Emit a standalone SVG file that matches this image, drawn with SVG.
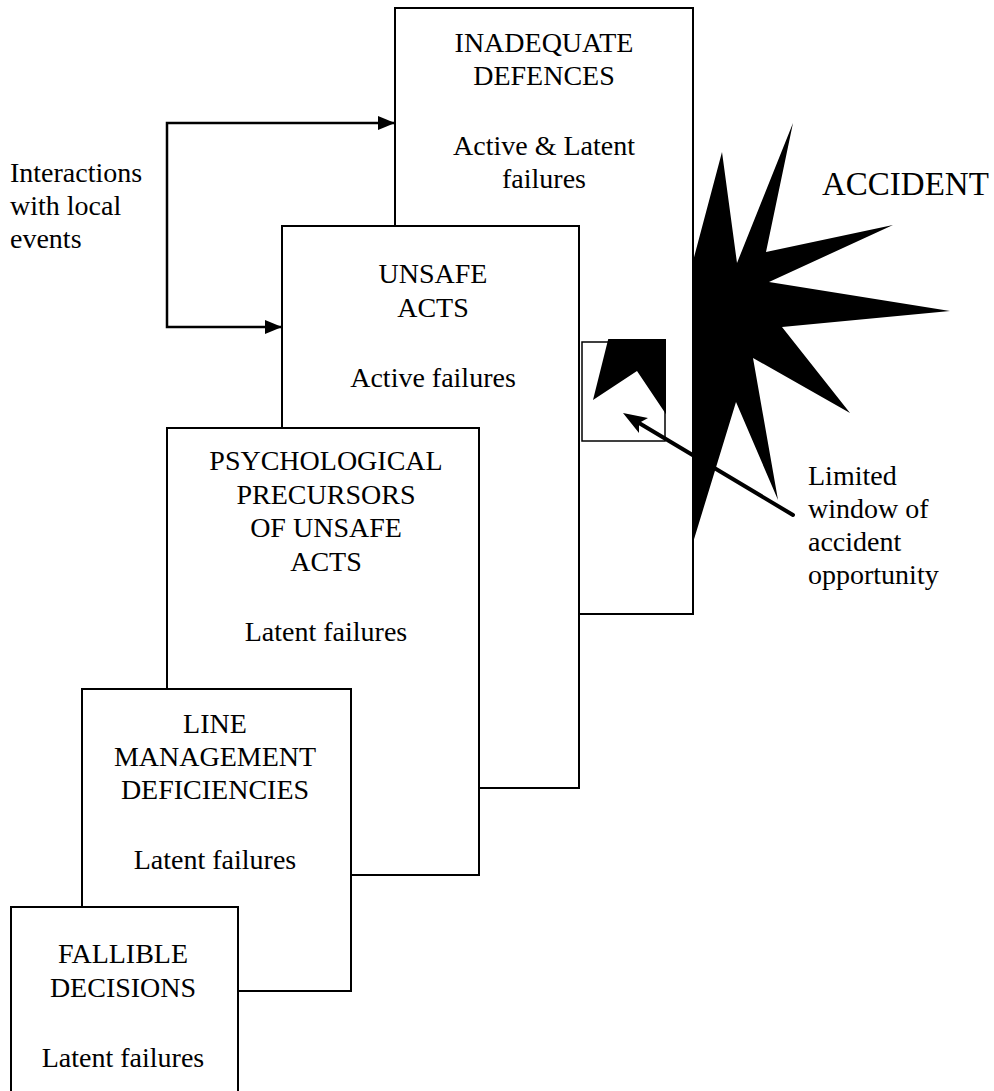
<svg xmlns="http://www.w3.org/2000/svg" xmlns:xlink="http://www.w3.org/1999/xlink" width="994" height="1091" viewBox="0 0 994 1091">
<style>
text{font-family:'Liberation Serif','DejaVu Serif','Noto Serif',Tinos,serif;font-size:28px;fill:#000}
.box{fill:#fff;stroke:#000;stroke-width:2}
.t{text-anchor:middle}
.conn{fill:none;stroke:#000;stroke-width:2.5}
</style>
<defs>
<marker id="ah" markerUnits="userSpaceOnUse" markerWidth="17" markerHeight="14" refX="17" refY="7" orient="auto">
<path d="M0,0 L17,7 L0,14 z" fill="#000"/>
</marker>
<polygon id="starShape" points="722,152 737,263 793,123 766,252 893,225 769,282 950,311 782,327 850,413 753,358 778,500 736,402 680,585 690,450 637,371 593,400 613,320 560,240 684,295"/>
<clipPath id="win"><rect x="582" y="339" width="84" height="102"/></clipPath>
</defs>
<rect width="994" height="1091" fill="#fff"/>
<g id="accident">
<use xlink:href="#starShape" fill="#000"/>
<text x="822" y="195" font-family="Liberation Serif, DejaVu Serif, serif" style="font-size:33px">ACCIDENT</text>
</g>
<g id="inadequate-defences" font-family="Liberation Serif, DejaVu Serif, serif">
<rect class="box" x="395" y="8" width="298" height="606"/>
<text class="t" x="544" y="52">INADEQUATE</text>
<text class="t" x="544" y="85">DEFENCES</text>
<text class="t" x="544" y="155">Active &amp; Latent</text>
<text class="t" x="544" y="188">failures</text>
</g>
<g id="unsafe-acts">
<rect class="box" x="282" y="226" width="297" height="562"/>
<text class="t" x="433" y="283">UNSAFE</text>
<text class="t" x="433" y="317">ACTS</text>
<text class="t" x="433" y="387">Active failures</text>
</g>
<g id="psychological-precursors">
<rect class="box" x="167" y="428" width="312" height="447"/>
<text class="t" x="326" y="470">PSYCHOLOGICAL</text>
<text class="t" x="326" y="504">PRECURSORS</text>
<text class="t" x="326" y="537">OF UNSAFE</text>
<text class="t" x="326" y="571">ACTS</text>
<text class="t" x="326" y="641">Latent failures</text>
</g>
<g id="line-management">
<rect class="box" x="82" y="689" width="269" height="302"/>
<text class="t" x="215" y="733">LINE</text>
<text class="t" x="215" y="766">MANAGEMENT</text>
<text class="t" x="215" y="799">DEFICIENCIES</text>
<text class="t" x="215" y="869">Latent failures</text>
</g>
<g id="fallible-decisions">
<rect class="box" x="11" y="907" width="227" height="190"/>
<text class="t" x="123" y="963">FALLIBLE</text>
<text class="t" x="123" y="997">DECISIONS</text>
<text class="t" x="123" y="1067">Latent failures</text>
</g>
<g id="window">
<rect x="582" y="339" width="84" height="102" fill="#fff"/>
<use xlink:href="#starShape" fill="#000" clip-path="url(#win)"/>
<rect x="582" y="342" width="83" height="99" fill="none" stroke="#000" stroke-width="1.5"/>
</g>
<g id="interactions-label">
<text x="10" y="182">Interactions</text>
<text x="10" y="215">with local</text>
<text x="10" y="248">events</text>
</g>
<g id="window-label">
<text x="808" y="485">Limited</text>
<text x="808" y="518">window of</text>
<text x="808" y="551">accident</text>
<text x="808" y="584">opportunity</text>
</g>
<g id="connectors">
<path class="conn" d="M167,225 V123 H395" marker-end="url(#ah)"/>
<path class="conn" d="M167,225 V327 H282" marker-end="url(#ah)"/>
<line x1="793" y1="515" x2="639" y2="423" stroke="#000" stroke-width="4" stroke-linecap="round"/>
<polygon points="623,413 648,418 639,423 639,433" fill="#000"/>
</g>
</svg>
